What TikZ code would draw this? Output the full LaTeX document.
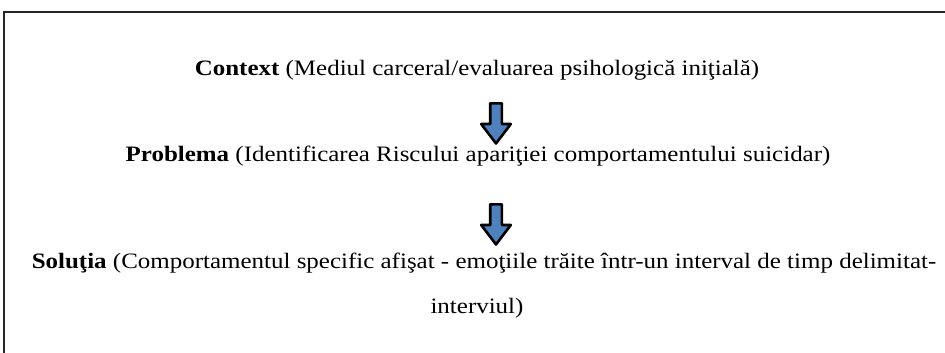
\documentclass[tikz,border=0pt]{standalone}
\usepackage{fontspec}
\setmainfont{Liberation Serif}[FakeStretch=1.135]
\usetikzlibrary{positioning}

\definecolor{arrowblue}{HTML}{4F81BD}

\tikzset{
	line node/.style={inner sep=0pt,anchor=base,font=\fontsize{22}{26}\selectfont},
	block arrow/.style={draw=black,fill=arrowblue,line width=2.6pt,line join=round}
}

% block arrow pointing down, top at the given point
\newcommand{\downblock}[1]{%
	\draw[block arrow,shift={(#1)}] (-5.8,1.3) -- (5.8,1.3) -- (5.8,22) -- (14.8,22)
	-- (0,41.5) -- (-14.8,22) -- (-5.8,22) -- cycle;}

\begin{document}
\begin{tikzpicture}[x=1pt,y=-1pt]
	\useasboundingbox (0,0) rectangle (945,353);
	\clip (0,0) rectangle (945,353);
	\draw[line width=1.3pt,draw=black!85] (4,12) rectangle (960,370);
	
	\node[line node] (context) at (477,76) {\textbf{Context} (Mediul carceral/evaluarea psihologică iniţială)};
	\node[line node] (problema) at (478,161) {\textbf{Problema} (Identificarea Riscului apariţiei comportamentului suicidar)};
	\node[line node] (solutia) at (484,268) {\textbf{Soluţia} (Comportamentul specific afişat - emoţiile trăite într-un interval de timp delimitat-};
	\node[line node] (interviul) at (477,313) {interviul)};
	
	\coordinate (a1) at (496,102);
	\coordinate (a2) at (496,203);
	\downblock{a1}
	\downblock{a2}
\end{tikzpicture}
\end{document}
